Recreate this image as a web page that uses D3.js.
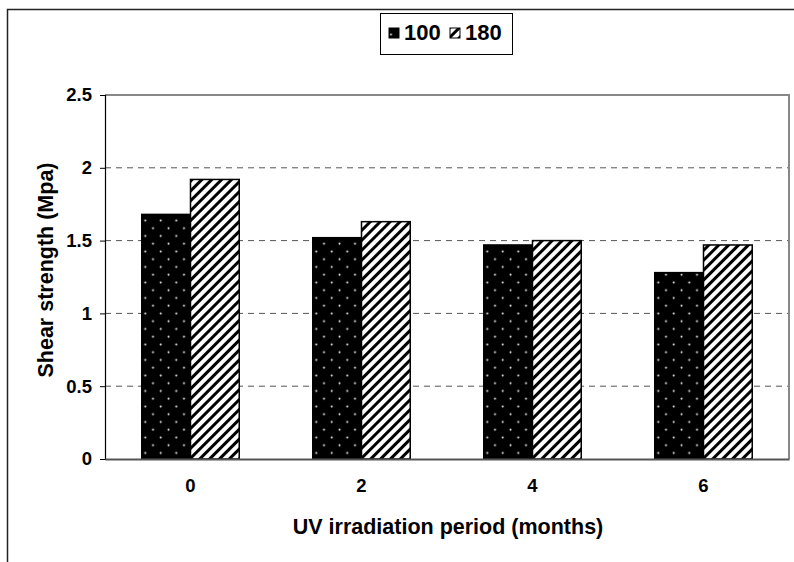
<!DOCTYPE html>
<html>
<head>
<meta charset="utf-8">
<script src="https://cdn.jsdelivr.net/npm/d3@7"></script>
<style>
  body { margin: 0; background: #fff; }
  text { font-family: Arial, "Liberation Sans", sans-serif; font-weight: bold; fill: #000; }
</style>
</head>
<body>
<div id="chart"></div>
<script>
(function() {
var WIDTH = 794;
var HEIGHT = 562;

// data
var periods = ['0', '2', '4', '6'];
var series = ['100', '180'];
var values100 = [1.68, 1.52, 1.47, 1.28];
var values180 = [1.92, 1.63, 1.50, 1.47];
var yTicks = [0, 0.5, 1, 1.5, 2, 2.5];

var plot = {left: 105, right: 789, top: 95, bottom: 459};

var svg = d3.select('#chart').append('svg')
  .attr('width', WIDTH)
  .attr('height', HEIGHT);

var defs = svg.append('defs');

// black with white dots
var dots = defs.append('pattern')
  .attr('id', 'dots')
  .attr('patternUnits', 'userSpaceOnUse')
  .attr('width', 15.5)
  .attr('height', 15.5);
dots.append('rect').attr('width', 15.5).attr('height', 15.5).attr('fill', '#000');
dots.append('circle').attr('cx', 3.5).attr('cy', 3.5).attr('r', 1).attr('fill', '#eee');
dots.append('circle').attr('cx', 11.25).attr('cy', 11.25).attr('r', 1).attr('fill', '#eee');

// diagonal hatch
var hatch = defs.append('pattern')
  .attr('id', 'hatch')
  .attr('patternUnits', 'userSpaceOnUse')
  .attr('width', 7)
  .attr('height', 7)
  .attr('patternTransform', 'rotate(45)');
hatch.append('rect').attr('width', 7).attr('height', 7).attr('fill', '#fff');
hatch.append('rect').attr('x', 0).attr('width', 3).attr('height', 7).attr('fill', '#000');

var fills = ['url(#dots)', 'url(#hatch)'];

// outer frame
svg.append('rect')
  .attr('x', 7.5).attr('y', 9.5)
  .attr('width', 820).attr('height', 600)
  .attr('fill', 'none')
  .attr('stroke', '#222')
  .attr('stroke-width', 1.5);

var x0 = d3.scaleBand()
  .domain(periods)
  .range([plot.left, plot.right])
  .paddingInner(0.43)
  .paddingOuter(0.215);

var x1 = d3.scaleBand()
  .domain(series)
  .range([0, x0.bandwidth()]);

var y = d3.scaleLinear()
  .domain([0, 2.5])
  .range([plot.bottom, plot.top]);

// gridlines
svg.append('g')
  .selectAll('line')
  .data(yTicks.filter(function(d) { return d > 0 && d < 2.5; }))
  .enter().append('line')
  .attr('x1', plot.left).attr('x2', plot.right)
  .attr('y1', function(d) { return y(d); })
  .attr('y2', function(d) { return y(d); })
  .attr('stroke', '#555')
  .attr('stroke-dasharray', '6,5');

// plot area top / right border
svg.append('path')
  .attr('d', 'M' + plot.left + ',' + plot.top + 'H' + plot.right + 'V' + plot.bottom)
  .attr('fill', 'none')
  .attr('stroke', '#888')
  .attr('stroke-width', 2);

// bars
var table = periods.map(function(p, i) {
  return {period: p, vals: [values100[i], values180[i]]};
});

var groups = svg.append('g')
  .selectAll('g')
  .data(table)
  .enter().append('g')
  .attr('transform', function(d) { return 'translate(' + x0(d.period) + ',0)'; });

groups.selectAll('rect')
  .data(function(d) {
    return d.vals.map(function(v, j) { return {key: series[j], value: v, idx: j}; });
  })
  .enter().append('rect')
  .attr('x', function(d) { return x1(d.key); })
  .attr('y', function(d) { return y(d.value); })
  .attr('width', x1.bandwidth())
  .attr('height', function(d) { return y(0) - y(d.value); })
  .attr('fill', function(d) { return fills[d.idx]; })
  .attr('stroke', '#000')
  .attr('stroke-width', 1.5);

// y axis
var yAxis = svg.append('g')
  .attr('transform', 'translate(' + plot.left + ',0)')
  .call(d3.axisLeft(y).tickValues(yTicks).tickFormat(d3.format('')).tickSize(5).tickPadding(8));
yAxis.select('.domain').attr('stroke', '#000').attr('stroke-width', 1.2);
yAxis.selectAll('.tick line').attr('stroke', '#000');
yAxis.selectAll('text').style('font-size', '18.5px').attr('fill', '#000');

// x axis
var xAxis = svg.append('g')
  .attr('transform', 'translate(0,' + plot.bottom + ')')
  .call(d3.axisBottom(x0).tickSize(0).tickPadding(20));
xAxis.select('.domain').attr('stroke', '#555').attr('stroke-width', 2);
xAxis.selectAll('text').style('font-size', '18.5px').attr('fill', '#000');

// axis titles
svg.append('text')
  .attr('x', 448)
  .attr('y', 534)
  .attr('text-anchor', 'middle')
  .style('font-size', '21.5px')
  .text('UV irradiation period (months)');

svg.append('text')
  .attr('transform', 'translate(53,270) rotate(-90)')
  .attr('text-anchor', 'middle')
  .style('font-size', '21.5px')
  .text('Shear strength (Mpa)');

// legend
var legend = svg.append('g');
legend.append('rect')
  .attr('x', 380.5).attr('y', 13.5)
  .attr('width', 132).attr('height', 41)
  .attr('fill', '#fff')
  .attr('stroke', '#000')
  .attr('stroke-width', 1);

var legendX = [389, 450];
series.forEach(function(s, i) {
  legend.append('rect')
    .attr('x', legendX[i]).attr('y', 28)
    .attr('width', 10).attr('height', 10)
    .attr('fill', fills[i])
    .attr('stroke', '#000')
    .attr('stroke-width', 1);
  legend.append('text')
    .attr('x', legendX[i] + 15)
    .attr('y', 40)
    .style('font-size', '22px')
    .text(s);
});
})();
</script>
</body>
</html>
